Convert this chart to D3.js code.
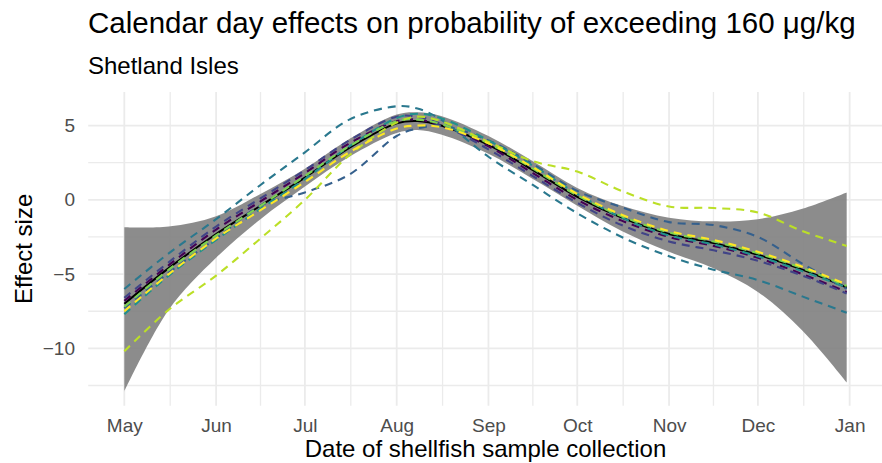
<!DOCTYPE html>
<html lang="en">
<head>
  <meta charset="utf-8">
  <title>calendar day effects</title>
  <style>
  * { margin:0; padding:0; }
  body { background:#fff; }
  svg text { font-family: "Liberation Sans", Arial, Helvetica, sans-serif; }
  </style>
  <script src="https://cdn.jsdelivr.net/npm/d3@7"></script>
</head>
<body>
  <div id="chart"></div>
  <script type="text/javascript">
  // sample dates (every ~half month) and the values
  var dates = ["2019-05-01","2019-05-16","2019-06-01","2019-06-16","2019-07-01","2019-07-16",
               "2019-08-01","2019-08-08","2019-08-16","2019-09-01","2019-09-16","2019-10-01",
               "2019-10-16","2019-11-01","2019-11-16","2019-12-01","2019-12-16","2019-12-31"];
  var meanEffect = [-7.0,-4.6,-2.3,-0.4,1.5,3.5,5.15,5.3,5.0,3.7,2.0,0.2,-1.2,-2.3,-2.9,-3.7,-4.7,-5.9];
  var upperCI    = [-1.85,-1.8,-1.1,0.4,2.1,4.1,5.75,5.9,5.65,4.3,2.6,0.8,-0.4,-1.2,-1.45,-1.3,-0.6,0.5];
  var lowerCI    = [-12.9,-7.4,-3.9,-1.3,0.9,2.9,4.5,4.7,4.4,3.1,1.4,-0.4,-2.1,-3.5,-4.6,-6.2,-8.8,-12.3];

  // individual dashed curves
  var s1 = [-6.8,-4.4,-2.0,-0.1,1.8,3.8,5.3,5.4,5.0,3.6,1.8,0.0,-1.4,-2.5,-3.1,-3.9,-5.0,-6.2];
  var s2 = [-6.6,-4.2,-1.8,0.1,2.0,4.0,5.6,5.6,5.1,3.4,1.6,-0.2,-1.7,-2.8,-3.4,-4.1,-5.1,-6.3];
  var s3 = [-7.3,-4.9,-2.6,-0.4,0.5,1.7,4.3,4.8,5.0,4.0,2.4,0.6,-0.5,-1.5,-1.7,-2.5,-4.3,-6.0];
  var s4 = [-6.0,-3.6,-1.3,1.0,3.2,5.4,6.3,6.15,5.4,2.9,1.0,-0.9,-2.5,-3.8,-4.7,-5.4,-6.5,-7.6];
  var s5 = [-7.7,-5.1,-2.7,-0.6,1.4,3.6,5.5,5.8,5.5,4.0,2.3,0.4,-1.2,-2.4,-3.0,-3.8,-4.8,-5.9];
  var s6 = [-7.2,-4.7,-2.4,-0.4,1.6,3.6,5.3,5.4,5.1,3.8,2.1,0.3,-1.1,-2.2,-2.8,-3.6,-4.6,-5.8];
  var s7 = [-10.2,-7.4,-5.1,-2.6,0.0,3.0,5.2,5.6,5.3,3.9,2.6,1.9,0.6,-0.45,-0.55,-0.85,-2.1,-3.1];
  var s8 = [-7.5,-5.0,-2.6,-0.7,1.2,3.2,4.8,5.0,4.9,3.8,2.2,0.4,-1.0,-2.1,-2.7,-3.5,-4.5,-5.7];
  var seriesList = [s1,s2,s3,s4,s5,s6,s7,s8];
  var seriesColours = ["#440154","#414487","#35608D","#2A788E","#21908C","#7AD151","#BBDF27","#FDE725"];

  var yMajor = [-10,-5,0,5];
  var yMinor = [-12.5,-7.5,-2.5,2.5];

  var w=882, h=463;
  var pL=88.2, pR=882.8, pT=92, pB=405.7;

  var svg=d3.select("#chart").append("svg")
    .attr("width",w).attr("height",h);

  var parse=d3.utcParse("%Y-%m-%d");
  var t=dates.map(parse);

  var xext=d3.extent(t), span=xext[1]-xext[0];
  var x=d3.scaleUtc()
    .domain([new Date(+xext[0]-0.05*span), new Date(+xext[1]+0.05*span)])
    .range([pL,pR]);

  var allVals=d3.merge([lowerCI,upperCI].concat(seriesList));
  var yext=d3.extent(allVals), ys=yext[1]-yext[0];
  var y=d3.scaleLinear()
    .domain([yext[0]-0.05*ys, yext[1]+0.05*ys])
    .range([pB,pT]);

  var xMajor=d3.utcMonth.range(parse("2019-05-01"), parse("2020-01-02"));
  var xMinor=[];
  for(var i=1;i<xMajor.length;i++){
    xMinor.push(new Date((+xMajor[i-1] + +xMajor[i])/2));
  }

  // grid
  var grid=svg.append("g");
  grid.selectAll(".xmin").data(xMinor).enter().append("line")
    .attr("x1",function(d){return x(d)}).attr("x2",function(d){return x(d)})
    .attr("y1",pT).attr("y2",pB)
    .style("stroke","#ebebeb").style("stroke-width",1.3);
  grid.selectAll(".ymin").data(yMinor).enter().append("line")
    .attr("x1",pL).attr("x2",pR)
    .attr("y1",function(d){return y(d)}).attr("y2",function(d){return y(d)})
    .style("stroke","#ebebeb").style("stroke-width",1.3);
  grid.selectAll(".xmaj").data(xMajor).enter().append("line")
    .attr("x1",function(d){return x(d)}).attr("x2",function(d){return x(d)})
    .attr("y1",pT).attr("y2",pB)
    .style("stroke","#ebebeb").style("stroke-width",1.8);
  grid.selectAll(".ymaj").data(yMajor).enter().append("line")
    .attr("x1",pL).attr("x2",pR)
    .attr("y1",function(d){return y(d)}).attr("y2",function(d){return y(d)})
    .style("stroke","#ebebeb").style("stroke-width",1.8);

  var curve=d3.curveCatmullRom;

  var area=d3.area()
    .x(function(d,i){return x(t[i])})
    .y0(function(d,i){return y(lowerCI[i])})
    .y1(function(d,i){return y(upperCI[i])})
    .curve(curve);
  svg.append("path")
    .attr("d",area(dates))
    .style("fill","#7f7f7f")
    .style("opacity",0.9);

  var line=d3.line()
    .x(function(d,i){return x(t[i])})
    .y(function(d){return y(d)})
    .curve(curve);

  svg.append("path")
    .attr("d",line(meanEffect))
    .style("fill","none").style("stroke","#000").style("stroke-width",2);

  svg.selectAll(".year").data(seriesList).enter().append("path")
    .attr("d",function(d){return line(d)})
    .style("fill","none")
    .style("stroke",function(d,i){return seriesColours[i]})
    .style("stroke-width",2.1)
    .style("stroke-dasharray","8,6");

  // axes
  var xAxis=d3.axisBottom(x).tickValues(xMajor).tickFormat(d3.utcFormat("%b"))
    .tickSize(0).tickPadding(12.5);
  var gx=svg.append("g").attr("transform","translate(0,"+pB+")").call(xAxis);
  gx.select(".domain").remove();
  gx.selectAll("text").style("font-size","19px").style("fill","#4d4d4d")
    .style("font-family","'Liberation Sans', Arial, sans-serif");

  var yAxis=d3.axisLeft(y).tickValues(yMajor).tickFormat(function(d){return d<0 ? "\u2212"+(-d) : d})
    .tickSize(0).tickPadding(13.2);
  var gy=svg.append("g").attr("transform","translate("+pL+",0)").call(yAxis);
  gy.select(".domain").remove();
  gy.selectAll("text").style("font-size","19px").style("fill","#4d4d4d")
    .style("font-family","'Liberation Sans', Arial, sans-serif");

  // titles
  svg.append("text").attr("x",88).attr("y",33.3)
    .style("font-size","29.5px").style("fill","#000")
    .text("Calendar day effects on probability of exceeding 160 \u03bcg/kg");
  svg.append("text").attr("x",88).attr("y",74)
    .style("font-size","24px").style("fill","#000")
    .text("Shetland Isles");
  svg.append("text").attr("x",(pL+pR)/2).attr("y",457)
    .attr("text-anchor","middle")
    .style("font-size","24px").style("fill","#000")
    .text("Date of shellfish sample collection");
  svg.append("text").attr("transform","translate(32,"+((pT+pB)/2)+") rotate(-90)")
    .attr("text-anchor","middle")
    .style("font-size","24px").style("fill","#000")
    .text("Effect size");
  </script>
</body>
</html>
